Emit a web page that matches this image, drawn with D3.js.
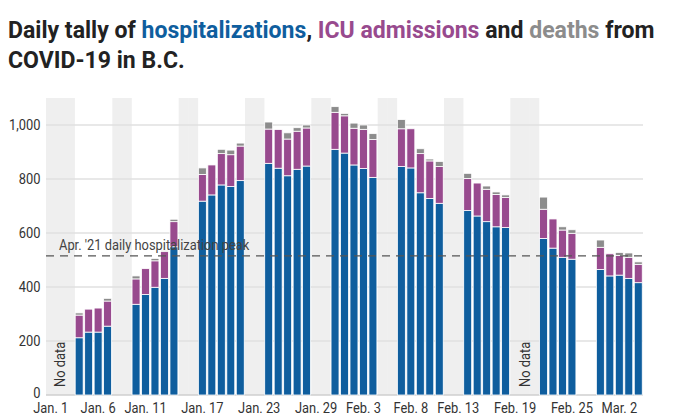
<!DOCTYPE html>
<html>
<head>
<meta charset="utf-8">
<script src="https://cdn.jsdelivr.net/npm/d3@7"></script>
<style>
  body { margin: 0; background: #fff; }
  text { font-family: Roboto, sans-serif; }
</style>
</head>
<body>
<div id="chart"></div>
<script>
// data
var days = ["2022-01-04","2022-01-05","2022-01-06","2022-01-07",
  "2022-01-10","2022-01-11","2022-01-12","2022-01-13","2022-01-14",
  "2022-01-17","2022-01-18","2022-01-19","2022-01-20","2022-01-21",
  "2022-01-24","2022-01-25","2022-01-26","2022-01-27","2022-01-28",
  "2022-01-31","2022-02-01","2022-02-02","2022-02-03","2022-02-04",
  "2022-02-07","2022-02-08","2022-02-09","2022-02-10","2022-02-11",
  "2022-02-14","2022-02-15","2022-02-16","2022-02-17","2022-02-18",
  "2022-02-22","2022-02-23","2022-02-24","2022-02-25",
  "2022-02-28","2022-03-01","2022-03-02","2022-03-03","2022-03-04"];
var hospitalizations = [212,233,233,255, 336,372,399,432,549, 718,741,778,772,794,
  858,840,812,836,848, 910,896,852,839,806, 846,841,749,728,710,
  683,663,642,623,620, 580,544,510,503, 465,441,444,432,416];
var icu = [84,85,89,93, 94,96,98,99,93, 99,111,116,118,128,
  127,143,136,141,141, 137,138,136,145,140, 140,145,145,139,136,
  119,122,120,120,112, 108,108,101,96, 82,82,73,78,68];
var deaths = [8,0,0,10, 11,0,9,4,9, 24,0,16,17,11,
  26,0,23,13,11, 21,9,19,16,22, 34,0,18,7,19,
  19,0,12,9,9, 45,0,12,13, 27,0,11,16,9];
var shaded = ["2022-01-01","2022-01-02","2022-01-03","2022-01-08","2022-01-09",
  "2022-01-15","2022-01-16","2022-01-22","2022-01-23","2022-01-29","2022-01-30",
  "2022-02-05","2022-02-06","2022-02-12","2022-02-13",
  "2022-02-19","2022-02-20","2022-02-21"];
var noData = ["2022-01-02","2022-02-20"];
var tickDays = ["2022-01-01","2022-01-06","2022-01-11","2022-01-17","2022-01-23",
  "2022-01-29","2022-02-03","2022-02-08","2022-02-13","2022-02-19","2022-02-25","2022-03-02"];
var yTicks = [0,200,400,600,800,1000];
var peak = 515;

var svgWidth = 676, svgHeight = 416;
var margin = { top: 98, right: 33, bottom: 21, left: 46 };
var chWidth = svgWidth - margin.left - margin.right;
var chHeight = svgHeight - margin.top - margin.bottom;

var colors = { hosp: "#0f5e9e", icu: "#984a8e", deaths: "#8c8c8c" };
var narrow = 0.92; // the original uses a condensed face
var parse = d3.timeParse("%Y-%m-%d");
var fmt = d3.timeFormat("%Y-%m-%d");
var allDays = d3.timeDay.range(parse("2022-01-01"), parse("2022-03-05")).map(fmt);

var svg = d3.select("#chart").append("svg")
  .attr("width", svgWidth)
  .attr("height", svgHeight);

// title
var title = svg.append("g");
var line1 = title.append("text")
  .attr("font-size", 23).attr("font-weight", 700).attr("fill", "#222");
line1.append("tspan").text("Daily tally of ");
line1.append("tspan").attr("fill", colors.hosp).text("hospitalizations");
line1.append("tspan").text(", ");
line1.append("tspan").attr("fill", colors.icu).text("ICU admissions");
line1.append("tspan").text(" and ");
line1.append("tspan").attr("fill", colors.deaths).text("deaths");
line1.append("tspan").text(" from");
var line2 = title.append("text")
  .attr("font-size", 23).attr("font-weight", 700).attr("fill", "#222")
  .text("COVID-19 in B.C.");
var k = 647 / line1.node().getComputedTextLength();
line1.attr("transform", `translate(8,38) scale(${k},1)`);
line2.attr("transform", `translate(8,68) scale(${k},1)`);

var chGroup = svg.append("g")
  .attr("transform", `translate(${margin.left}, ${margin.top})`);

var xScale = d3.scaleBand()
  .domain(allDays)
  .range([0, chWidth])
  .paddingInner(0.16)
  .paddingOuter(0.08);

var yScale = d3.scaleLinear()
  .domain([0, 1100])
  .range([chHeight, 0]);

// shaded weekend / holiday bands
chGroup.selectAll(".band")
  .data(shaded)
  .enter()
  .append("rect")
  .attr("x", d => xScale(d) - xScale.step() * xScale.paddingInner() / 2)
  .attr("width", xScale.step() + 0.5)
  .attr("y", 0)
  .attr("height", chHeight)
  .attr("fill", "#efefef");

// grid
chGroup.selectAll(".grid")
  .data(yTicks)
  .enter()
  .append("line")
  .attr("x1", 0).attr("x2", chWidth)
  .attr("y1", d => yScale(d)).attr("y2", d => yScale(d))
  .attr("stroke", d => d === 0 ? "#cfcfcf" : "#e0e0e0")
  .attr("stroke-width", 1.5);

// stacked bars
var rows = days.map(function(d, i) {
  return { day: d, hosp: hospitalizations[i], icu: icu[i], deaths: deaths[i] };
});
var stack = d3.stack().keys(["hosp", "icu", "deaths"])(rows);

chGroup.selectAll(".series")
  .data(stack)
  .enter()
  .append("g")
  .attr("fill", s => colors[s.key])
  .selectAll("rect")
  .data(s => s.filter(p => p[1] > p[0]))
  .enter()
  .append("rect")
  .attr("x", p => xScale(p.data.day))
  .attr("width", xScale.bandwidth())
  .attr("y", p => yScale(p[1]))
  .attr("height", p => yScale(p[0]) - yScale(p[1]))
  .attr("stroke", "#fff")
  .attr("stroke-width", 0.8);

// peak line
chGroup.append("line")
  .attr("x1", 0).attr("x2", chWidth)
  .attr("y1", yScale(peak)).attr("y2", yScale(peak))
  .attr("stroke", "#555")
  .attr("stroke-width", 1.3)
  .attr("stroke-dasharray", "8,6");

chGroup.append("text")
  .attr("transform", `translate(13, ${yScale(peak) - 6}) scale(${narrow},1)`)
  .attr("font-size", 14)
  .attr("fill", "#444")
  .text("Apr. '21 daily hospitalization peak");

// no data labels
chGroup.selectAll(".nodata")
  .data(noData)
  .enter()
  .append("text")
  .attr("transform", d => `translate(${xScale(d) + xScale.bandwidth() / 2 + 5}, ${chHeight - 8}) rotate(-90) scale(${narrow},1)`)
  .attr("font-size", 14)
  .attr("fill", "#333")
  .text("No data");

// axes
var yAxis = d3.axisLeft(yScale).tickValues(yTicks).tickSize(0).tickPadding(6)
  .tickFormat(d3.format(","));
var xAxis = d3.axisBottom(xScale).tickValues(tickDays).tickSize(0).tickPadding(8)
  .tickFormat(d => d3.timeFormat("%b. %-d")(parse(d)));

var yG = chGroup.append("g").call(yAxis);
yG.select(".domain").remove();
yG.selectAll("text").attr("font-size", 14).attr("fill", "#333")
  .attr("transform", `scale(${narrow},1)`)
  .style("font-family", "Roboto, sans-serif");
yG.selectAll(".tick").filter(d => d === 0).select("text").attr("dy", "0.2em");

var xG = chGroup.append("g")
  .attr("transform", `translate(0, ${chHeight})`)
  .call(xAxis);
xG.select(".domain").remove();
xG.selectAll("text").attr("font-size", 14).attr("fill", "#333")
  .attr("transform", `scale(${narrow},1)`)
  .style("font-family", "Roboto, sans-serif");
</script>
</body>
</html>
